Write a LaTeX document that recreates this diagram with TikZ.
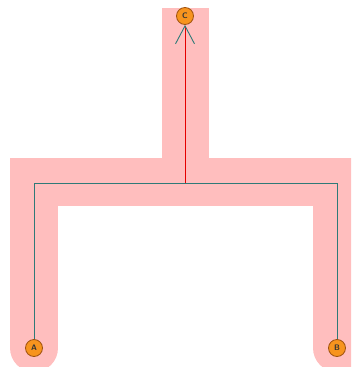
\documentclass[tikz,border=0pt]{standalone}
\usepackage{tikz}
\usetikzlibrary{arrows.meta}

\definecolor{bandpink}{HTML}{FFBEBE}
\definecolor{wireteal}{HTML}{2E7A78}
\definecolor{pinorange}{HTML}{F7941E}
\definecolor{pinedge}{HTML}{A0520F}

\begin{document}
\begin{tikzpicture}[x=1pt, y=-1pt,
		pin/.style={circle, draw=pinedge, fill=pinorange, line width=0.8pt, minimum size=17pt, inner sep=0pt,
			font=\sffamily\bfseries\footnotesize, text=black!80}]
					\useasboundingbox (0,0) rectangle (351,367);
					\clip (0,0) rectangle (351,367);
					% pink band behind the wires
					\draw[bandpink, line width=48pt, line cap=round, line join=miter] (34,348) -- (34,182) -- (337,182) -- (337,348);
					\draw[bandpink, line width=47pt, line cap=butt] (185.5,182) -- (185.5,8);
					\node[pin] (C) at (185,16) {C};
					\node[pin] (A) at (34,348) {A};
					\node[pin] (B) at (337,348) {B};
					\coordinate (jl) at (34,183); \coordinate (jr) at (337,183);
					\coordinate (jc) at (185,183);
					\draw[wireteal, line width=1pt] (A) -- (jl) -- (jr) -- (B);
					\draw[red!90!black, line width=1pt, -{Straight Barb[length=18pt, width=19pt, color=wireteal, line width=0.9pt]}] (jc) -- (C);
				\end{tikzpicture}
\end{document}
